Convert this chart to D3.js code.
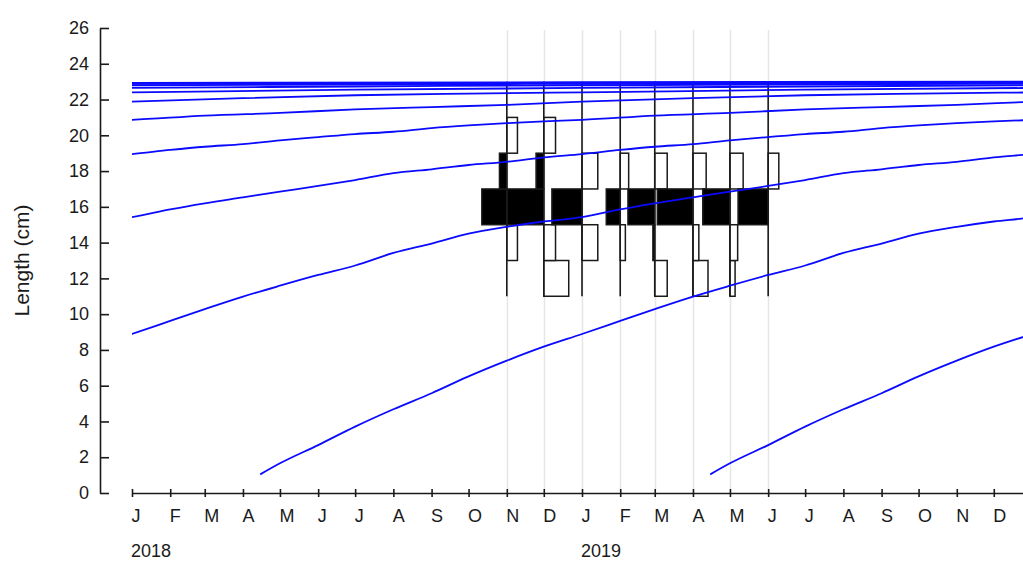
<!DOCTYPE html>
<html>
<head>
<meta charset="utf-8">
<script src="https://cdn.jsdelivr.net/npm/d3@7"></script>
<style>
body { margin: 0; background: #fff; }
text { font-family: Arial, "Liberation Sans", sans-serif; fill: #1a1a1a; }
</style>
</head>
<body>
<div id="main"></div>
<script>
// ---- values ----
var years = [2018, 2019];
var monthLetters = ["J","F","M","A","M","J","J","A","S","O","N","D"];
var lengthTicks = [0, 2, 4, 6, 8, 10, 12, 14, 16, 18, 20, 22, 24, 26];

// sampling dates of the length-frequency samples
var sampleDates = ["2018-11-01", "2018-12-01", "2019-01-01", "2019-02-01",
                   "2019-03-01", "2019-04-01", "2019-05-01", "2019-06-01"];
// lower limits of the 2 cm length classes
var binLower = [11, 13, 15, 17, 19, 21];
// restructured scores, one per class (positive = black, negative = white)
var scoreNov = [ 0.00, -0.29, 0.68,  0.20, -0.29, 0];
var scoreDec = [-0.68, -0.32, 1.00,  0.21, -0.32, 0];
var scoreJan = [ 0.00, -0.43, 0.82, -0.43,  0.00, 0];
var scoreFeb = [ 0.00, -0.14, 0.38, -0.23,  0.00, 0];
var scoreMar = [-0.34,  0.05, 0.73, -0.34,  0.00, 0];
var scoreApr = [-0.41, -0.16, 0.97, -0.36,  0.00, 0];
var scoreMay = [-0.14, -0.21, 0.74, -0.36,  0.00, 0];
var scoreJun = [ 0.00,  0.00, 0.82, -0.29,  0.00, 0];
var scores = [scoreNov, scoreDec, scoreJan, scoreFeb, scoreMar, scoreApr, scoreMay, scoreJun];

// growth curve: age in months counted from 1 Jan of the birth year, length in cm
var ageMonths = [3.45, 4, 5, 6, 7, 8, 9, 10, 11, 12, 13, 14, 15, 16, 17, 18, 19, 20, 21, 22, 23, 24,
                 25, 26, 27, 28, 29, 30, 31, 32, 33, 34, 35, 36, 37, 38, 39, 40, 41, 42, 43, 44, 45, 46, 47, 48,
                 50, 52, 54, 56, 58, 60, 63, 66, 69, 72, 78, 84, 90, 96, 108, 120, 132, 144];
var ageLengths = [1.04, 1.66, 2.68, 3.71, 4.68, 5.58, 6.52, 7.40, 8.18, 8.89, 9.62, 10.28, 10.98, 11.59, 12.19, 12.72,
                  13.42, 13.95, 14.50, 14.88, 15.18, 15.42,
                  15.86, 16.20, 16.53, 16.85, 17.17, 17.50, 17.88, 18.10, 18.34, 18.52, 18.77, 18.95,
                  19.18, 19.36, 19.51, 19.72, 19.90, 20.07, 20.20, 20.40, 20.55, 20.68, 20.78, 20.86,
                  21.10, 21.25, 21.45, 21.58, 21.70, 21.88, 22.08, 22.24, 22.33, 22.40, 22.55, 22.65,
                  22.73, 22.80, 22.88, 22.93, 22.97, 23.00];
// birth years of the cohorts drawn
var cohortYears = [2008, 2009, 2010, 2011, 2012, 2013, 2014, 2015, 2016, 2017, 2018, 2019];

var ctx = {
    w: 1023,
    h: 563,
    BLUE: "#0a0aff",
    INK: "#1a1a1a",
    FONT: "18px"
};

var parseDay = d3.timeParse("%Y-%m-%d");

var ageToDate = function(birthYear, m){
    var whole = Math.floor(m);
    var d = d3.timeMonth.offset(new Date(birthYear, 0, 1), whole);
    return d3.timeDay.offset(d, Math.round((m - whole) * 30));
};

var createViz = function(){
    var svgEl = d3.select("#main").append("svg")
        .attr("width", ctx.w)
        .attr("height", ctx.h)
        .style("display", "block")
        .style("background", "#fff");

    ctx.xScale = d3.scaleTime()
        .domain([new Date(2018, 0, 1), new Date(2020, 0, 1)])
        .range([132, 1032]);
    ctx.yScale = d3.scaleLinear().domain([0, 26]).range([493, 28]);
    ctx.barScale = d3.scaleLinear().domain([0, 1]).range([0, 36.7]);

    svgEl.append("defs").append("clipPath").attr("id", "plotClip")
        .append("rect")
        .attr("x", ctx.xScale(new Date(2018, 0, 1)))
        .attr("y", 0)
        .attr("width", ctx.w - ctx.xScale(new Date(2018, 0, 1)))
        .attr("height", ctx.yScale(0));

    var samples = sampleDates.map(parseDay);

    // light sampling guides
    svgEl.append("g").selectAll("line")
        .data(samples)
        .enter()
        .append("line")
        .attr("x1", function(d){ return Math.round(ctx.xScale(d)) + 0.5; })
        .attr("x2", function(d){ return Math.round(ctx.xScale(d)) + 0.5; })
        .attr("y1", 30)
        .attr("y2", ctx.yScale(0) - 3)
        .style("stroke", "#e6e6e6")
        .style("stroke-width", 1.5);

    // restructured histograms
    var bars = [];
    samples.forEach(function(d, i){
        scores[i].forEach(function(v, j){
            if (v !== 0){ bars.push({date: d, lo: binLower[j], v: v}); }
        });
    });
    svgEl.append("g").selectAll("rect")
        .data(bars)
        .enter()
        .append("rect")
        .attr("x", function(d){
            var xs = ctx.xScale(d.date);
            return d.v > 0 ? xs - ctx.barScale(d.v) : xs;
        })
        .attr("y", function(d){ return ctx.yScale(d.lo + 2); })
        .attr("width", function(d){ return ctx.barScale(Math.abs(d.v)); })
        .attr("height", function(d){ return ctx.yScale(d.lo) - ctx.yScale(d.lo + 2); })
        .style("fill", function(d){ return d.v > 0 ? "#000" : "#fff"; })
        .style("stroke", ctx.INK)
        .style("stroke-width", 1.5);

    // histogram baselines
    svgEl.append("g").selectAll("line")
        .data(samples)
        .enter()
        .append("line")
        .attr("x1", function(d){ return ctx.xScale(d); })
        .attr("x2", function(d){ return ctx.xScale(d); })
        .attr("y1", ctx.yScale(binLower[binLower.length - 1] + 2))
        .attr("y2", ctx.yScale(binLower[0]))
        .style("stroke", ctx.INK)
        .style("stroke-width", 1.6);

    // growth curves, one per cohort
    var line = d3.line()
        .x(function(d){ return ctx.xScale(d.date); })
        .y(function(d){ return ctx.yScale(d.L); })
        .curve(d3.curveMonotoneX);
    svgEl.append("g")
        .attr("clip-path", "url(#plotClip)")
        .selectAll("path")
        .data(cohortYears)
        .enter()
        .append("path")
        .attr("d", function(by){
            return line(ageMonths.map(function(m, k){
                return {date: ageToDate(by, m), L: ageLengths[k]};
            }));
        })
        .style("fill", "none")
        .style("stroke", ctx.BLUE)
        .style("stroke-width", 1.8);

    // y axis
    var yAxis = svgEl.append("g")
        .attr("transform", "translate(100,0)")
        .call(d3.axisLeft(ctx.yScale).tickValues(lengthTicks)
            .tickSizeInner(-9).tickSizeOuter(0).tickPadding(11));
    yAxis.selectAll("path, line").style("stroke", ctx.INK).style("stroke-width", 1.6);
    yAxis.selectAll("text")
        .style("font-size", ctx.FONT)
        .style("font-family", "Arial, 'Liberation Sans', sans-serif")
        .style("fill", "#1a1a1a");

    // x axis, one tick per month inside the visible range
    var monthTicks = d3.timeMonth.range(new Date(2018, 0, 1), new Date(2019, 11, 2));
    var xAxis = svgEl.append("g")
        .attr("transform", "translate(0," + ctx.yScale(0) + ")")
        .call(d3.axisBottom(ctx.xScale).tickValues(monthTicks)
            .tickFormat(function(d){ return monthLetters[d.getMonth()]; })
            .tickSizeOuter(0));
    xAxis.selectAll("path, line").style("stroke", ctx.INK).style("stroke-width", 1.6);
    xAxis.selectAll(".tick line").attr("y1", -4).attr("y2", 4);
    xAxis.selectAll("text")
        .attr("y", 29)
        .attr("dy", 0)
        .attr("x", -1)
        .style("text-anchor", "start")
        .style("font-size", ctx.FONT)
        .style("font-family", "Arial, 'Liberation Sans', sans-serif")
        .style("fill", "#1a1a1a");

    // year labels
    svgEl.append("g").selectAll("text")
        .data(years)
        .enter()
        .append("text")
        .attr("x", function(y){ return ctx.xScale(new Date(y, 0, 1)) - 1; })
        .attr("y", 557)
        .style("font-size", ctx.FONT)
        .text(function(y){ return y; });

    // y-axis label
    svgEl.append("text")
        .attr("transform", "translate(29," + ctx.yScale(13) + ") rotate(-90)")
        .style("text-anchor", "middle")
        .style("font-size", "21px")
        .text("Length (cm)");
};

createViz();
</script>
</body>
</html>
